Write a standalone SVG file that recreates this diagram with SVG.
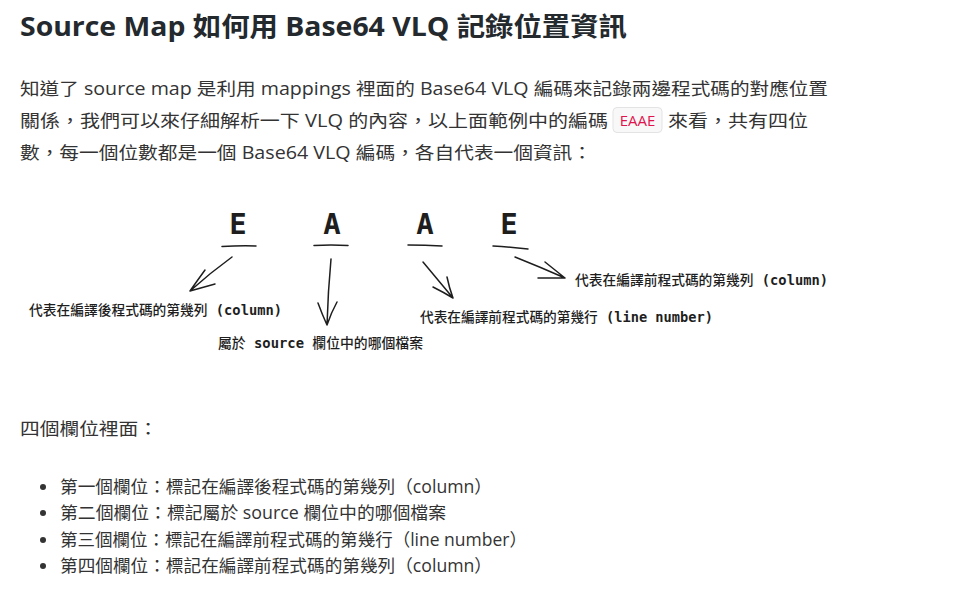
<svg xmlns="http://www.w3.org/2000/svg" width="963" height="596" viewBox="0 0 963 596">
<style>
.title{font-family:"Open Sans","Noto Sans CJK TC",sans-serif;font-weight:700;font-size:26px;fill:#24292e}
.body{font-family:"Open Sans","Noto Sans CJK TC",sans-serif;font-size:17.5px;fill:#333}
.code{font-family:"Open Sans","Noto Sans CJK TC",sans-serif;font-size:15px;fill:#e0144c}
.letter{font-family:"DejaVu Sans Mono",monospace;font-weight:700;font-size:29px;fill:#1e1e1e;text-anchor:middle}
.lbl{font-family:"Noto Sans CJK TC",sans-serif;font-size:14px;font-weight:500;fill:#1e1e1e}
.mono{font-family:"DejaVu Sans Mono",monospace;font-weight:700}
.ink{fill:none;stroke:#1e1e1e;stroke-width:1.5;stroke-linecap:round;stroke-linejoin:round}
</style>
<rect width="963" height="596" fill="#fff"/>
<text class="title" x="20" y="36" textLength="607" lengthAdjust="spacingAndGlyphs">Source Map 如何用 Base64 VLQ 記錄位置資訊</text>
<g id="paragraph">
<text class="body" x="20" y="95" textLength="808" lengthAdjust="spacingAndGlyphs">知道了 source map 是利用 mappings 裡面的 Base64 VLQ 編碼來記錄兩邊程式碼的對應位置</text>
<text class="body" x="20" y="127" textLength="588" lengthAdjust="spacingAndGlyphs">關係，我們可以來仔細解析一下 VLQ 的內容，以上面範例中的編碼</text>
<rect x="613" y="107.5" width="49" height="25" rx="4" fill="#f8f8f9" stroke="#e3e3e6"/>
<text class="code" x="637.5" y="126" text-anchor="middle">EAAE</text>
<text class="body" x="668" y="127" textLength="140" lengthAdjust="spacingAndGlyphs">來看，共有四位</text>
<text class="body" x="20" y="159" textLength="572" lengthAdjust="spacingAndGlyphs">數，每一個位數都是一個 Base64 VLQ 編碼，各自代表一個資訊：</text>
</g>
<g id="letter-e1"><text class="letter" x="238" y="234">E</text><path class="ink" d="M222 246.5 Q240 245.5 256 246"/></g>
<g id="letter-a1"><text class="letter" x="332" y="234">A</text><path class="ink" d="M314 245.5 Q331 244.5 348 245.5"/></g>
<g id="letter-a2"><text class="letter" x="425" y="234">A</text><path class="ink" d="M408 245 Q425 245 442 246"/></g>
<g id="letter-e2"><text class="letter" x="509" y="234">E</text><path class="ink" d="M493 246 Q510 247 528 249"/></g>
<g id="label-1"><text class="lbl" x="29" y="315" textLength="253" lengthAdjust="spacingAndGlyphs">代表在編譯後程式碼的第幾列<tspan class="mono"> (column)</tspan></text></g>
<g id="label-2"><text class="lbl" x="218" y="348" textLength="205" lengthAdjust="spacingAndGlyphs">屬於<tspan class="mono"> source </tspan>欄位中的哪個檔案</text></g>
<g id="label-3"><text class="lbl" x="420" y="322" textLength="293" lengthAdjust="spacingAndGlyphs">代表在編譯前程式碼的第幾行<tspan class="mono"> (line number)</tspan></text></g>
<g id="label-4"><text class="lbl" x="575" y="285" textLength="253" lengthAdjust="spacingAndGlyphs">代表在編譯前程式碼的第幾列<tspan class="mono"> (column)</tspan></text></g>
<g id="connectors">
<path class="ink" d="M232 257 Q210 273 190 291 M205 270 Q197 281 190 291 L215 284"/>
<path class="ink" d="M331 259 Q328 291 327 325 M318 303 Q322 314 327 325 Q331 313 337 302"/>
<path class="ink" d="M423 262 Q438 280 453 298 M433 287 Q443 292 453 298 Q449 287 447 277"/>
<path class="ink" d="M515 257 Q540 267 565 278 M545 262 Q555 270 565 278 L538 278"/>
</g>
<g id="list">
<text class="body" x="20" y="435" textLength="138" lengthAdjust="spacingAndGlyphs">四個欄位裡面：</text>
<circle cx="43" cy="487" r="3" fill="#333"/>
<circle cx="43" cy="513" r="3" fill="#333"/>
<circle cx="43" cy="540" r="3" fill="#333"/>
<circle cx="43" cy="566" r="3" fill="#333"/>
<text class="body" x="60" y="493" textLength="432" lengthAdjust="spacingAndGlyphs">第一個欄位：標記在編譯後程式碼的第幾列（column）</text>
<text class="body" x="60" y="519" textLength="386" lengthAdjust="spacingAndGlyphs">第二個欄位：標記屬於 source 欄位中的哪個檔案</text>
<text class="body" x="60" y="546" textLength="467" lengthAdjust="spacingAndGlyphs">第三個欄位：標記在編譯前程式碼的第幾行（line number）</text>
<text class="body" x="60" y="572" textLength="432" lengthAdjust="spacingAndGlyphs">第四個欄位：標記在編譯前程式碼的第幾列（column）</text>
</g>
</svg>
